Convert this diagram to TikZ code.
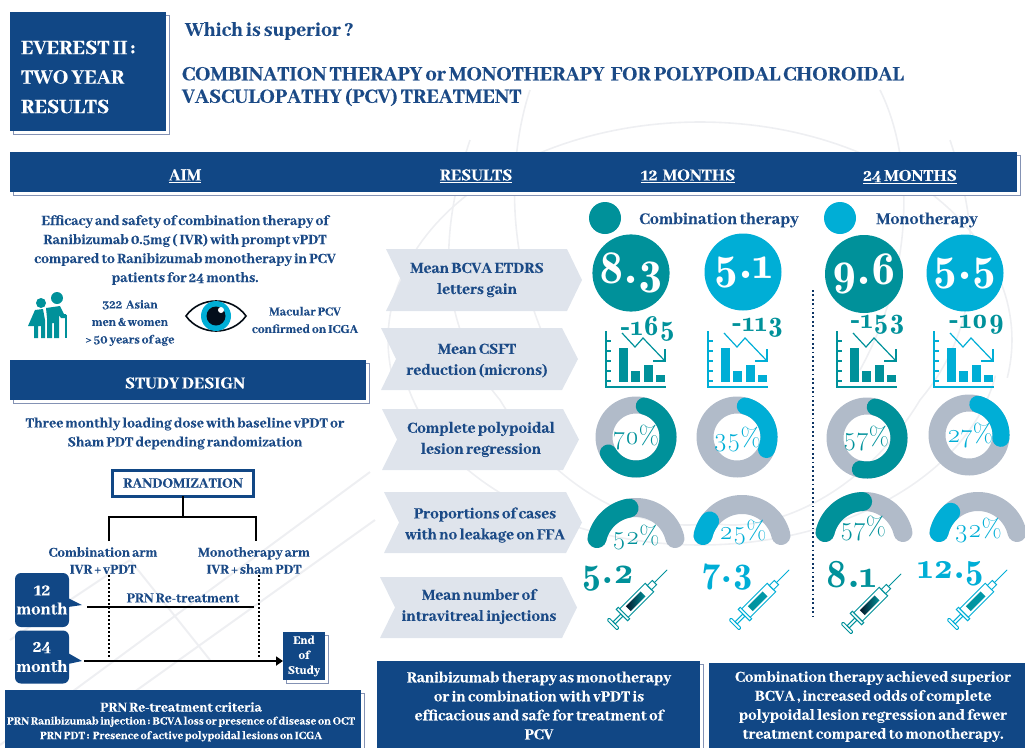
\documentclass[tikz,border=0pt]{standalone}
\usepackage{fontspec}
\setmainfont{Abhaya Libre}[BoldFont={Abhaya Libre ExtraBold},BoldFeatures={WordSpace=0.72,FakeBold=0.35}]
\newfontfamily\numf[Numbers=OldStyle]{Latin Modern Roman}
\newfontfamily\numd[Numbers=OldStyle]{Latin Modern Roman Demi}
\usetikzlibrary{shadows,arrows.meta,calc}
\definecolor{navy}{HTML}{114785}
\definecolor{ink}{HTML}{1B4A86}
\definecolor{teal1}{HTML}{00919A}
\definecolor{sky1}{HTML}{00AED6}
\definecolor{ringgray}{HTML}{B1BBC9}
\definecolor{chev}{HTML}{DFE4EC}
\definecolor{wm}{HTML}{EEEFF2}
\definecolor{shad}{HTML}{8492B4}
\newcommand{\fs}[1]{\fontsize{#1}{#1}\selectfont}
\newcommand{\fsl}[2]{\fontsize{#1}{#2}\selectfont}
\tikzset{
  every node/.style={inner sep=0pt,outer sep=0pt},
  tx/.style={align=center,text=ink,font=\bfseries\fsl{15.5}{19}},
  wtx/.style={align=center,text=white,font=\bfseries\fsl{16.8}{19}},
  bluebox/.style={fill=navy,anchor=north west,copy shadow={shadow xshift=3pt,shadow yshift=-3pt,fill=white,draw=shad,line width=.8pt}},
  chevshape/.style={fill=chev},
  conn/.style={black,line width=2pt},
  dotv/.style={black,line width=1.6pt,dash pattern=on 1.6pt off 2.4pt},
  wmline/.style={wm,line width=1.6pt},
  bignum/.style={text=white,font=\numd\fs{47}},
  pct/.style={font=\numf\fs{26}},
  rowlabel/.style={tx,font=\bfseries\fsl{17}{21}},
}
\def\ringw{17pt}
\newcommand{\ring}[6]{% cx cy r start end color
  \draw[line width=\ringw,line cap=round,#6] plot[domain=#4:#5,samples=70] ({#1+#3*cos(\x)},{#2-#3*sin(\x)});}
\newcommand{\chart}[3]{% x y colour
  \begin{scope}[shift={(#1,#2)},#3]
    \draw[line width=1.3pt] (0,-56) -- (0,0) -- (60,0);
    \foreach \t in {6,16,26,36,46}{\draw[line width=1.1pt] (0,-\t) -- (5,-\t);}
    \fill (13,-5) rectangle (22,-39);
    \fill (25,-5) rectangle (34,-16);
    \fill (38,-5) rectangle (47,-22);
    \fill (50,-5) rectangle (59,-12);
    \draw[line width=1.2pt,line join=miter] (16,-54) -- (29,-40) -- (37,-49) -- (59,-26);
    \draw[line width=1.3pt] (47,-26) -- (59,-26) -- (59,-38);
  \end{scope}}
\newcommand{\syr}[5]{% x y line-colour fillA fillB
  \begin{scope}[shift={(#1,#2)},rotate=45,#3,line width=1pt]
    \draw[fill=white,rounded corners=1pt] (0,-7) rectangle (3,7);
    \draw (3,-1.5) rectangle (14,1.5);
    \draw[fill=white] (14,-8) rectangle (17,8);
    \draw[fill=white] (17,-6) rectangle (53,6);
    \shade[left color=#4,right color=#5,draw=none] (23,-3.5) rectangle (44,3.5);
    \draw[fill=white] (53,-3) rectangle (60,3);
    \draw[line width=.9pt] (60,0) -- (78,0);
  \end{scope}}
\begin{document}
\begin{tikzpicture}[x=1pt,y=-1pt]
\useasboundingbox (0,0) rectangle (1025,747);
% watermark seal
\begin{scope}
\clip (0,0) rectangle (1025,747);
\draw[wmline] plot[domain=-10:190,samples=120] ({700+312*cos(\x)},{340-218*sin(\x)});
\draw[wmline] plot[domain=190:350,samples=120] ({700+300*cos(\x)},{340-205*sin(\x)});
\draw[wmline] (470,140) .. controls (430,260) and (450,340) .. (500,400) .. controls (560,500) and (660,540) .. (720,520);
\draw[wmline] (950,140) .. controls (990,260) and (970,340) .. (920,400) .. controls (860,500) and (760,540) .. (700,520);
\draw[wmline] (530,90) .. controls (510,150) and (500,260) .. (560,370);
\draw[wmline] (880,90) .. controls (910,150) and (920,260) .. (860,370);
\draw[wm,line width=2pt] (0,745) -- (370,472);
\draw[wm,line width=2pt] (60,745) -- (375,520);
\draw[wm,line width=2pt] (10,640) -- (130,560) -- (210,660);
\end{scope}
% title
\node[bluebox,minimum width=156pt,minimum height=119pt] (titlebox) at (10,12) {};
\node[anchor=west,text=white,align=left,font=\bfseries\fsl{22.5}{29.5}] (titletxt) at (21,77) {EVEREST II :\\TWO YEAR\\RESULTS};
\node[anchor=west,text=ink,font=\bfseries\fs{21.5}] (which) at (185,31) {Which is superior ?};
\node[anchor=north west,align=left,text=ink,font=\bfseries\fsl{22.3}{22.5}] (headline) at (182,67) {COMBINATION THERAPY or MONOTHERAPY\ \ FOR POLYPOIDAL CHOROIDAL\\VASCULOPATHY (PCV) TREATMENT};
% banner
\node[bluebox,minimum width=1007pt,minimum height=40pt] (banner) at (10,152) {};
\node[text=white,font=\bfseries\fs{18.5}] (aim) at (185,176) {\underline{AIM}};
\node[text=white,font=\bfseries\fs{18.5}] (results) at (476,176) {\underline{RESULTS}};
\node[text=white,font=\bfseries\fs{18.5}] (m12) at (688,176) {\underline{12\ \ MONTHS}};
\node[text=white,font=\bfseries\fs{18.5}] (m24) at (910,177) {\underline{24 MONTHS}};
% aim
\node[tx] (aimtxt) at (185,250) {Efficacy and safety of combination therapy of\\Ranibizumab 0.5mg ( IVR) with prompt vPDT\\compared to Ranibizumab monotherapy in PCV\\patients for 24 months.};
% elderly couple
\fill[teal1] (41,303) circle[radius=5];
\fill[teal1] (57,298) circle[radius=6];
\fill[teal1] (46,308) -- (60,306) -- (64,314) -- (66,314) -- (66,318) -- (61,318) -- (59,315) -- (59,338) -- (54,338) -- (54,323) -- (52,323) -- (52,338) -- (47,338) -- (47,318) -- cycle;
\fill[teal1] (35,310) -- (43,309) -- (45,320) -- (45,338) -- (41,338) -- (41,326) -- (38,326) -- (38,338) -- (34,338) -- (34,326) -- (28,326) -- cycle;
\draw[teal1,line width=1.2pt] (62,316) -- (66,316) -- (66,338);
\node[tx,font=\bfseries\fsl{13.5}{17.5}] (pop) at (130,323) {322\ \ Asian\\men \& women\\> 50 years of age};
% eye
\draw[black!85!navy,line width=1.6pt,fill=white] (186,316) .. controls (200,296) and (232,296) .. (246,316) .. controls (232,336) and (200,336) .. (186,316) -- cycle;
\fill[sky1] (216,316) circle[radius=15];
\fill[black!80!navy] (216,316) circle[radius=9.5];
\fill[white] (221,310) circle[radius=3];
\node[tx,font=\bfseries\fsl{13.5}{17.5}] (macular) at (305,320) {Macular PCV\\confirmed on ICGA};
% study design
\node[bluebox,minimum width=356pt,minimum height=40pt] (design) at (10,360) {};
\node[text=white,font=\bfseries\fs{18.5}] (designtxt) at (185,383) {STUDY DESIGN};
\node[tx] (loading) at (185,433.500) {Three monthly loading dose with baseline vPDT or\\Sham PDT depending randomization};
% randomization
\node[draw=navy,line width=3pt,fill=white,minimum width=141pt,minimum height=26pt,text=ink,font=\bfseries\fs{15.5}] (rand) at (183,483) {RANDOMIZATION};
\coordinate (armL) at (109,541);
\coordinate (armR) at (256,541);
\draw[conn] (rand.south) -- ++(0,20.5) coordinate (split);
\draw[conn] (armL) |- (split) -| (armR);
\node[tx,font=\bfseries\fsl{15}{17}] (combo) at (103,560.500) {Combination arm\\IVR + vPDT};
\node[tx,font=\bfseries\fsl{15}{17}] (mono) at (254,560.500) {Monotherapy arm\\IVR + sham PDT};
\coordinate (dl1) at (109,575); \coordinate (dl2) at (109,657);
\coordinate (dr1) at (259,575); \coordinate (dr2) at (259,657);
\draw[dotv] (dl1) -- (dl2);
\draw[dotv] (dr1) -- (dr2);
% months
\fill[navy] (68,598) -- (82,605) -- (68,607) -- cycle;
\fill[navy] (68,653) -- (82,661) -- (68,664) -- cycle;
\node[fill=navy,rounded corners=6pt,minimum width=54pt,minimum height=54pt,text=white,align=center,font=\bfseries\fsl{18.5}{19}] (mo12) at (42,600) {12\\month};
\node[fill=navy,rounded corners=6pt,minimum width=54pt,minimum height=53pt,text=white,align=center,font=\bfseries\fsl{18.5}{20}] (mo24) at (42,657) {24\\month};
\coordinate (prn1) at (87,607); \coordinate (prn2) at (254,607);
\draw[conn] (prn1) -- (prn2);
\node[tx,font=\bfseries\fs{15}] (prn) at (183,598) {PRN Re-treatment};
\node[bluebox,minimum width=42pt,minimum height=48pt,text=white,align=center,font=\bfseries\fsl{13}{15}] (endst) at (283,632) {End\\of\\Study};
\coordinate (arr) at (84,661);
\draw[conn,-{Triangle[length=7pt,width=9pt]}] (arr) -- (endst.west |- arr);
% criteria
\node[bluebox,minimum width=356pt,minimum height=60pt] (crit) at (5,690) {};
\node[wtx,font=\bfseries\fsl{15}{15}] (crit0) at (181,707) {PRN Re-treatment criteria};
\node[wtx,font=\bfseries\fsl{12.3}{14.5}] (crit1) at (181,729) {PRN Ranibizumab injection : BCVA loss or presence of disease on OCT\\PRN PDT :\ \ Presence of active polypoidal lesions on ICGA};
% row chevrons
\fill[chevshape] (386,249) -- (567,249) -- (582,280) -- (567,311) -- (386,311) -- (401,280) -- cycle;
\fill[chevshape] (381,328) -- (562,328) -- (578,359) -- (562,390) -- (381,390) -- (396,359) -- cycle;
\fill[chevshape] (382,409) -- (563,409) -- (579,439.500) -- (563,470) -- (382,470) -- (397,439.500) -- cycle;
\fill[chevshape] (384,492) -- (566,492) -- (582,522.500) -- (566,553) -- (384,553) -- (399,522.500) -- cycle;
\fill[chevshape] (380,577) -- (562,577) -- (577,607.500) -- (562,638) -- (380,638) -- (395,607.500) -- cycle;
\node[rowlabel] (r1) at (477,280) {Mean BCVA ETDRS\\letters gain};
\node[rowlabel] (r2) at (477,360.500) {Mean CSFT\\reduction (microns)};
\node[rowlabel] (r3) at (481,439.500) {Complete polypoidal\\lesion regression};
\node[rowlabel] (r4) at (485,525) {Proportions of cases\\with no leakage on FFA};
\node[rowlabel] (r5) at (479,606.500) {Mean number of\\intravitreal injections};
% legend
\fill[teal1] (605,218) circle[radius=16];
\fill[sky1] (840,218) circle[radius=16];
\node[tx,font=\bfseries\fs{18}] (legc) at (719,220) {Combination therapy};
\node[tx,font=\bfseries\fs{18}] (legm) at (927,220) {Monotherapy};
% dotted divider
\coordinate (dv1) at (813,290); \coordinate (dv2) at (813,616);
\draw[navy!75!black,line width=1.8pt,dash pattern=on 1.8pt off 2.6pt] (dv1) -- (dv2);
% BCVA circles
\node[circle,fill=teal1,minimum size=77pt,bignum] (b1) at (631,273) {8.3};
\node[circle,fill=sky1,minimum size=77pt,bignum] (b2) at (743,272) {5.1};
\node[circle,fill=teal1,minimum size=78pt,bignum] (b3) at (864,274) {9.6};
\node[circle,fill=sky1,minimum size=77pt,bignum] (b4) at (965,273) {5.5};
% charts
\chart{606}{387}{teal1,draw=teal1,fill=teal1}
\chart{708}{387}{sky1,draw=sky1,fill=sky1}
\chart{837}{387}{teal1,draw=teal1,fill=teal1}
\chart{934}{387}{sky1,draw=sky1,fill=sky1}
\node[font=\numd\fs{29},text=teal1] (c1) at (648,329) {-165};
\node[font=\numd\fs{29},text=teal1] (c2) at (758,328) {-113};
\node[font=\numd\fs{29},text=teal1] (c3) at (878,325) {-153};
\node[font=\numd\fs{29},text=teal1] (c4) at (977,325) {-109};
% donuts
\ring{636}{437}{32}{0}{360}{ringgray}
\ring{636}{437}{32}{75}{-150}{teal1}
\ring{737}{437}{32}{0}{360}{ringgray}
\ring{737}{437}{32}{75}{-23}{sky1}
\ring{867}{438}{32}{0}{360}{ringgray}
\ring{867}{438}{32}{75}{-102}{teal1}
\ring{969}{435}{32}{0}{360}{ringgray}
\ring{969}{435}{32}{74}{-6}{sky1}
\node[pct,text=teal1] (d1) at (636,438) {70\%};
\node[pct,text=sky1] (d2) at (737,439) {35\%};
\node[pct,text=teal1] (d3) at (866,439) {57\%};
\node[pct,text=sky1] (d4) at (970,436) {27\%};
% gauges
\def\ringw{19pt}
\ring{636}{547.500}{40}{167}{13}{ringgray}
\ring{636}{547.500}{40}{167}{100}{teal1}
\ring{742}{544.500}{40}{167}{13}{ringgray}
\ring{742}{544.500}{40}{167}{144}{sky1}
\ring{864}{541.500}{40}{167}{13}{ringgray}
\ring{864}{541.500}{40}{167}{92}{teal1}
\ring{978}{541.500}{40}{167}{13}{ringgray}
\ring{978}{541.500}{40}{167}{133}{sky1}
\node[pct,text=teal1] (g1) at (636,537) {52\%};
\node[pct,text=sky1] (g2) at (743,532) {25\%};
\node[pct,text=teal1] (g3) at (863,529) {57\%};
\node[pct,text=sky1] (g4) at (978,530) {32\%};
% injections
\syr{612}{625}{teal1,draw=teal1}{black!70!navy}{teal1}
\syr{734}{625}{sky1,draw=sky1}{teal1}{teal1!70!sky1}
\syr{846}{629}{teal1,draw=teal1}{black!70!navy}{teal1}
\syr{952}{625}{sky1,draw=sky1}{teal1}{teal1!70!sky1}
\node[font=\numd\fs{38},text=teal1] (i1) at (608,579) {5.2};
\node[font=\numd\fs{38},text=sky1] (i2) at (728,577) {7.3};
\node[font=\numd\fs{40},text=teal1] (i3) at (851,575) {8.1};
\node[font=\numd\fs{37},text=sky1] (i4) at (951,574) {12.5};
% conclusion
\node[bluebox,minimum width=323pt,minimum height=90pt] (con1) at (377,661) {};
\node[bluebox,minimum width=316pt,minimum height=90pt,copy shadow={opacity=0}] (con2) at (709,663) {};
\node[wtx] (con1t) at (539,705.500) {Ranibizumab therapy as monotherapy\\or in combination with vPDT is\\efficacious and safe for treatment of\\PCV};
\node[wtx] (con2t) at (873,706.500) {Combination therapy achieved superior\\BCVA , increased odds of complete\\polypoidal lesion regression and fewer\\treatment compared to monotherapy.};
\end{tikzpicture}
\end{document}
